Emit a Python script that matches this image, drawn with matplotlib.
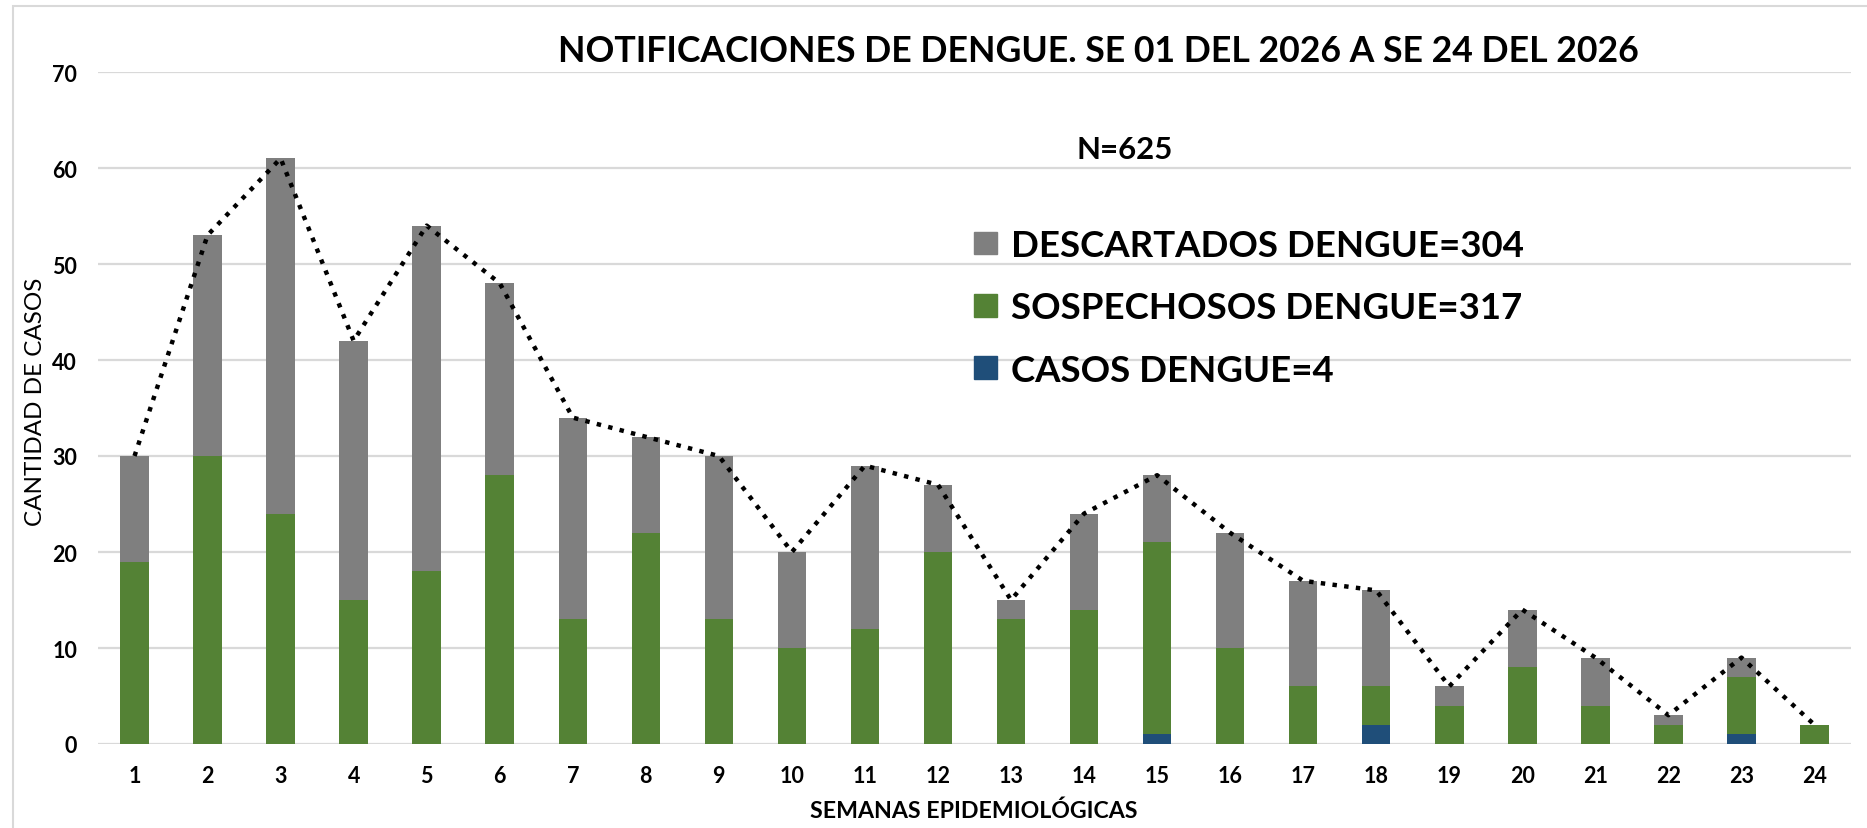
import matplotlib.pyplot as plt
from matplotlib.patches import Patch, Rectangle
import numpy as np

# semanas epidemiologicas 1..24
semanas = list(range(1, 25))
casos = [0, 0, 0, 0, 0, 0, 0, 0, 0, 0, 0, 0, 0, 0, 1, 0, 0, 2, 0, 0, 0, 0, 1, 0]
sospechosos = [19, 30, 24, 15, 18, 28, 13, 22, 13, 10, 12, 20, 13, 14, 20, 10, 6, 4, 4, 8, 4, 2, 6, 2]
descartados = [11, 23, 37, 27, 36, 20, 21, 10, 17, 10, 17, 7, 2, 10, 7, 12, 11, 10, 2, 6, 5, 1, 2, 0]

etiquetas = ["CASOS DENGUE=4", "SOSPECHOSOS DENGUE=317", "DESCARTADOS DENGUE=304"]
colores = ["#1f4e79", "#548235", "#7f7f7f"]

W, H = 1867, 829
plt.rcParams['font.family'] = ['Lato', 'DejaVu Sans']

fig = plt.figure(figsize=(W / 100, H / 100), dpi=100)
ax = fig.add_axes([98 / W, 84 / H, (1851 - 98) / W, (745 - 73) / H])

x = np.array(semanas)
c = np.array(casos)
s = np.array(sospechosos)
d = np.array(descartados)
total = c + s + d

ancho = 0.39
ax.bar(x, c, ancho, color=colores[0], zorder=2)
ax.bar(x, s, ancho, bottom=c, color=colores[1], zorder=2)
ax.bar(x, d, ancho, bottom=c + s, color=colores[2], zorder=2)
ax.plot(x, total, color='black', linestyle=':', linewidth=3.2, zorder=3)

ax.set_xlim(0.5, 24.5)
ax.set_ylim(0, 70)
ax.set_yticks(range(0, 71, 10))
ax.set_xticks(semanas)
ax.grid(axis='y', color='#d9d9d9', linewidth=1.6, zorder=0)
ax.set_axisbelow(True)
for sp in ax.spines.values():
    sp.set_visible(False)
ax.tick_params(length=0, labelsize=15.5)
ax.tick_params(axis='y', pad=15)
ax.tick_params(axis='x', pad=15)
for t in ax.get_xticklabels() + ax.get_yticklabels():
    t.set_fontweight('bold')

fig.text(1098 / W, 1 - 52 / H, "NOTIFICACIONES DE DENGUE. SE 01 DEL 2026 A SE 24 DEL 2026",
         ha='center', va='center', fontsize=25.7, fontweight='bold')
fig.text(1125 / W, 1 - 150 / H, "N=625", ha='center', va='center',
         fontsize=22.5, fontweight='bold')
fig.text(35 / W, 1 - 402 / H, "CANTIDAD DE CASOS", rotation=90, ha='center',
         va='center', fontsize=17.5)
fig.text(974 / W, 1 - 811 / H, "SEMANAS EPIDEMIOLÓGICAS", ha='center', va='center',
         fontsize=16.7, fontweight='bold')

handles = [Patch(color=colores[i]) for i in [2, 1, 0]]
labels = [etiquetas[i] for i in [2, 1, 0]]
fig.legend(handles, labels, loc='upper left', bbox_to_anchor=(974 / W, 1 - 230 / H),
           frameon=False, handlelength=0.63, handleheight=0.57,
           handletextpad=0.38, labelspacing=0.8, borderpad=0, borderaxespad=0,
           prop={'weight': 'bold', 'size': 26.4})

# borde del area del grafico
fig.patches.append(Rectangle((13 / W, -0.5), 1.0, 1.5 - 7 / H, fill=False,
                             edgecolor='#d9d9d9', linewidth=1.5,
                             transform=fig.transFigure))

fig.savefig("out.png", dpi=100)
